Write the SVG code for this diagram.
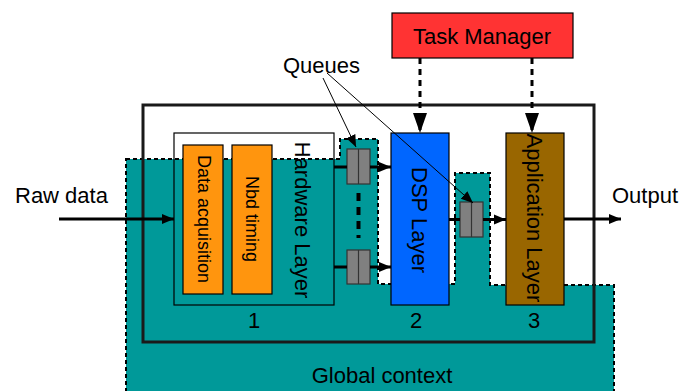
<svg xmlns="http://www.w3.org/2000/svg" width="679" height="391" viewBox="0 0 679 391">
  <style>
    text { font-family: "Liberation Sans", Arial, sans-serif; fill: #000; }
    .lbl { font-size: 22px; }
    .small { font-size: 18px; }
    .box { stroke: #000; stroke-width: 1.2; }
    .queue { fill: #808080; stroke: #333; stroke-width: 1.2; }
    .flow { stroke: #000; stroke-width: 3; fill: none; }
    .ctrl { stroke: #000; stroke-width: 3; fill: none; stroke-dasharray: 6 5; }
    .ptr { stroke: #000; stroke-width: 1; fill: none; }
  </style>
  <defs>
    <marker id="arrowFlow" markerUnits="userSpaceOnUse" markerWidth="14" markerHeight="12" refX="12" refY="6" orient="auto">
      <path d="M0,1 L12,6 L0,11 Z" fill="#000"/>
    </marker>
    <marker id="arrowCtrl" markerUnits="userSpaceOnUse" markerWidth="22" markerHeight="16" refX="20" refY="7" orient="auto">
      <path d="M0,0 L20,7 L0,14 Z" fill="#000"/>
    </marker>
    <marker id="arrowPtr" markerUnits="userSpaceOnUse" markerWidth="14" markerHeight="12" refX="12" refY="5" orient="auto">
      <path d="M0,0 L12,5 L0,10 Z" fill="#000"/>
    </marker>
  </defs>

  <!-- hardware layer background (upper part stays white) -->
  <rect x="174" y="133" width="160" height="172" fill="#fff"/>

  <!-- global context area -->
  <g id="global-context">
    <polygon points="126,159 340,159 340,139 378,139 378,284 455,284 455,173 490,173 490,285 614,285 614,395 126,395"
             fill="#009999" stroke="#000" stroke-width="2" stroke-dasharray="4 3"/>
    <text class="lbl" x="382" y="383" text-anchor="middle">Global context</text>
  </g>

  <!-- system boundary -->
  <rect x="143" y="105" width="451" height="237" fill="none" stroke="#1a1a1a" stroke-width="3"/>

  <!-- hardware layer -->
  <g id="hardware-layer">
    <rect class="box" x="174" y="133" width="160" height="172" fill="none"/>
    <text class="lbl" transform="translate(295,220) rotate(90)" text-anchor="middle">Hardware Layer</text>
    <text class="lbl" x="254" y="328" text-anchor="middle">1</text>
  </g>
  <g id="data-acquisition">
    <rect class="box" x="183" y="145" width="40" height="149" fill="#ff950e"/>
    <text class="small" transform="translate(198,219) rotate(90)" text-anchor="middle">Data acquisition</text>
  </g>
  <g id="nbd-timing">
    <rect class="box" x="232" y="145" width="40" height="149" fill="#ff950e"/>
    <text class="small" transform="translate(246,219) rotate(90)" text-anchor="middle">Nbd timing</text>
  </g>

  <!-- queues -->
  <g id="queue-hw-top">
    <rect class="queue" x="347" y="149" width="23" height="35"/>
    <line x1="358.5" y1="149" x2="358.5" y2="184" stroke="#333" stroke-width="1.2"/>
  </g>
  <g id="queue-hw-bottom">
    <rect class="queue" x="347" y="250" width="23" height="34"/>
    <line x1="358.5" y1="250" x2="358.5" y2="284" stroke="#333" stroke-width="1.2"/>
  </g>
  <g id="queue-dsp">
    <rect class="queue" x="460" y="202" width="23" height="35"/>
    <line x1="471.5" y1="202" x2="471.5" y2="237" stroke="#333" stroke-width="1.2"/>
  </g>

  <!-- DSP layer -->
  <g id="dsp-layer">
    <rect class="box" x="391" y="133" width="58" height="172" fill="#0066ff"/>
    <text class="lbl" transform="translate(412,220) rotate(90)" text-anchor="middle">DSP Layer</text>
    <text class="lbl" x="416" y="328" text-anchor="middle">2</text>
  </g>

  <!-- application layer -->
  <g id="application-layer">
    <rect class="box" x="506" y="133" width="58" height="172" fill="#996600"/>
    <text class="lbl" transform="translate(527,218) rotate(90)" text-anchor="middle">Application Layer</text>
    <text class="lbl" x="534" y="328" text-anchor="middle">3</text>
  </g>

  <!-- task manager -->
  <g id="task-manager">
    <rect class="box" x="392" y="13" width="181" height="45" fill="#ff3333"/>
    <text class="lbl" x="482" y="44" text-anchor="middle">Task Manager</text>
  </g>

  <!-- free labels -->
  <g id="labels">
    <text class="lbl" x="15" y="203">Raw data</text>
    <text class="lbl" x="612" y="203">Output</text>
    <text class="lbl" x="283" y="73">Queues</text>
  </g>

  <!-- connectors -->
  <g id="connectors">
    <line class="flow" x1="59" y1="219" x2="174" y2="219" marker-end="url(#arrowFlow)"/>
    <line class="flow" x1="334" y1="167" x2="347" y2="167"/>
    <line class="flow" x1="370" y1="167" x2="391" y2="167" marker-end="url(#arrowFlow)"/>
    <line class="flow" x1="334" y1="267" x2="347" y2="267"/>
    <line class="flow" x1="370" y1="267" x2="391" y2="267" marker-end="url(#arrowFlow)"/>
    <line x1="358.5" y1="193" x2="358.5" y2="238" stroke="#000" stroke-width="4" stroke-dasharray="8 6"/>
    <line class="flow" x1="449" y1="219.5" x2="460" y2="219.5"/>
    <line class="flow" x1="483" y1="219.5" x2="506" y2="219.5" marker-end="url(#arrowFlow)"/>
    <line class="flow" x1="564" y1="219" x2="621" y2="219" marker-end="url(#arrowFlow)"/>
    <line class="ctrl" x1="420" y1="58" x2="420" y2="133" marker-end="url(#arrowCtrl)"/>
    <line class="ctrl" x1="532" y1="58" x2="532" y2="133" marker-end="url(#arrowCtrl)"/>
    <line class="ptr" x1="323" y1="78" x2="356" y2="147" marker-end="url(#arrowPtr)"/>
    <line class="ptr" x1="327" y1="73" x2="473" y2="203" marker-end="url(#arrowPtr)"/>
  </g>
</svg>
